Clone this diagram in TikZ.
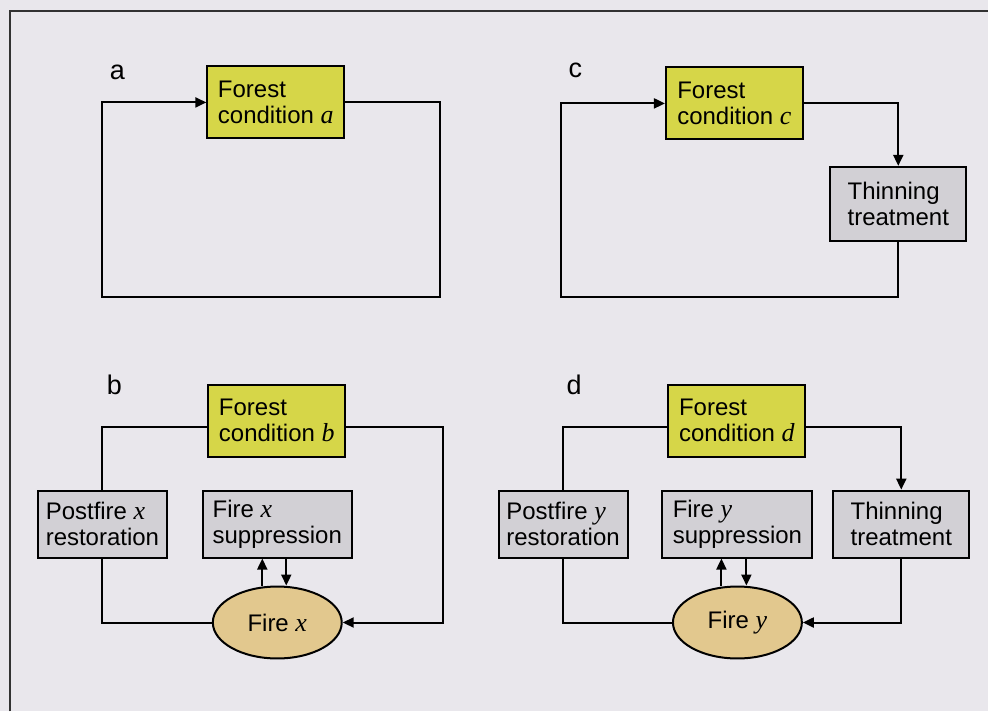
\documentclass[tikz,border=0pt]{standalone}
\usepackage{fontspec}
\setmainfont{Liberation Sans}
\newfontfamily\timesfam{Liberation Serif}
\newcommand{\fv}[1]{{\timesfam\itshape\fontsize{13}{13}\selectfont #1}}
\usepackage{tikz}
\usetikzlibrary{positioning}
\usetikzlibrary{shapes.geometric}
\usetikzlibrary{arrows.meta}

\definecolor{bgcol}{RGB}{233,231,236}
\definecolor{forestcol}{RGB}{214,214,72}
\definecolor{treatcol}{RGB}{210,208,213}
\definecolor{firecol}{RGB}{226,200,142}
\definecolor{framecol}{RGB}{50,50,50}

\begin{document}
\begin{tikzpicture}[x=0.5pt,y=-0.5pt,
		box/.style={draw, line width=1pt, align=left, inner sep=0pt, font=\fontsize{12}{13}\selectfont},
		cond/.style={box, fill=forestcol, minimum width=68.5pt, minimum height=36pt},
		act/.style={box, fill=treatcol, minimum height=33.5pt},
		firenode/.style={ellipse, draw, line width=1pt, fill=firecol, minimum width=64.5pt, minimum height=36pt, inner sep=0pt, font=\fontsize{12}{13}\selectfont},
		link/.style={line width=1pt},
		arr/.style={link, -{Triangle[length=5.5pt,width=5pt]}},
		lab/.style={anchor=base west, font=\fontsize{13.5}{14}\selectfont}]
			\fill[bgcol] (0,0) rectangle (989,712);
			\draw[framecol, line width=0.8pt] (10,712) -- (10,11) -- (989,11);
			
			\node[lab] (la) at (103,80) {a};
			\node[lab] (lc) at (562,78) {c};
			\node[lab] (lb) at (100,395) {b};
			\node[lab] (ld) at (560,395) {d};
			
			\node[cond] (fa) at (276,102.5) {Forest\\condition \fv{a}};
			
			\node[cond] (fc) at (735,103.5) {Forest\\condition \fv{c}};
			\node[act, minimum width=68pt, minimum height=37pt] (tc) at (899,204) {Thinning\\treatment};
			
			\node[cond] (fb) at (277,421) {Forest\\condition \fv{b}};
			\node[act, minimum width=64.5pt] (px) at (102.5,524.5) {Postfire \fv{x}\\restoration};
			\node[act, minimum width=74.5pt] (sx) at (277.5,524.5) {Fire \fv{x}\\suppression};
			\node[firenode] (ex) at (277.5,623) {Fire \fv{x}};
			
			\node[cond] (fd) at (737.5,421) {Forest\\condition \fv{d}};
			\node[act, minimum width=64.5pt] (py) at (563.5,524.5) {Postfire \fv{y}\\restoration};
			\node[act, minimum width=75pt] (sy) at (738,524.5) {Fire \fv{y}\\suppression};
			\node[act, minimum width=68pt] (td) at (902,524.5) {Thinning\\treatment};
			\node[firenode] (ey) at (738,623) {Fire \fv{y}};
			
			
			\draw[arr] (fa.east) -| (440,297) -| (102,102.5) -- (fa.west);
			
			\draw[arr] (fc.east) -| (tc.north);
			\draw[arr] (tc.south) |- (561,297) |- (fc.west);
			
			\draw[link] ([yshift=-3pt]fb.west) -| (px.north);
			\draw[link] (px.south) |- (ex.west);
			\draw[arr] ([yshift=-3pt]fb.east) -| (443,623) -- (ex.east);
			\draw[arr] ([xshift=-7.5pt]ex.north) -- ([xshift=-7.5pt]ex.north |- sx.south);
			\draw[arr] ([xshift=4.5pt]sx.south) -- ([xshift=4.5pt]sx.south |- ex.north);
			
			\draw[link] ([yshift=-3pt]fd.west) -| (py.north);
			\draw[link] (py.south) |- (ey.west);
			\draw[arr] ([yshift=-3pt]fd.east) -| (td.north);
			\draw[arr] (td.south) |- (ey.east);
			\draw[arr] ([xshift=-8pt]ey.north) -- ([xshift=-8pt]ey.north |- sy.south);
			\draw[arr] ([xshift=4.5pt]sy.south) -- ([xshift=4.5pt]sy.south |- ey.north);
		\end{tikzpicture}
\end{document}
